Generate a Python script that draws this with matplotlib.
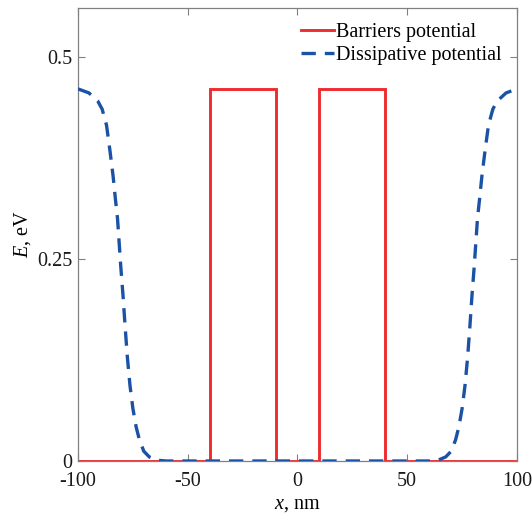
import matplotlib
matplotlib.use('Agg')
import matplotlib.pyplot as plt

# barrier potential (rectangular barriers)
barrier_x = [-100, -40, -40, -10, -10, 10, 10, 40, 40, 100]
barrier_e = [0, 0, 0.46, 0.46, 0, 0, 0.46, 0.46, 0, 0]

# dissipative (absorbing) potential
diss_x = [-100, -95, -91, -89, -87, -85.5, -84, -83, -82, -81.3, -80.5, -79.5,
          -78.5, -77.5, -76.3, -75, -73.5, -72, -70, -67.5, -64, -60,
          60, 64, 67.5, 70, 72, 73.5, 75, 76.3, 77.5, 78.5, 79.5, 80.5,
          81.3, 82, 83, 84, 85.5, 87, 89, 91, 95, 100]
diss_e = [0.460, 0.455, 0.445, 0.435, 0.415, 0.385, 0.352, 0.325, 0.300, 0.272,
          0.240, 0.205, 0.165, 0.128, 0.093, 0.065, 0.042, 0.026, 0.012, 0.005,
          0.001, 0.0,
          0.0, 0.001, 0.005, 0.012, 0.026, 0.042, 0.065, 0.093, 0.128, 0.165,
          0.205, 0.240, 0.272, 0.300, 0.325, 0.352, 0.385, 0.415, 0.435, 0.445,
          0.455, 0.460]

xticks = [-100, -50, 0, 50, 100]
yticks = [0, 0.25, 0.5]
ytick_labels = ['0', '0.25', '0.5']

plt.rcParams['font.family'] = ['Liberation Serif', 'DejaVu Serif']
plt.rcParams['mathtext.fontset'] = 'custom'
plt.rcParams['mathtext.rm'] = 'Liberation Serif'
plt.rcParams['mathtext.it'] = 'Liberation Serif:italic'
plt.rcParams['axes.unicode_minus'] = False

fs = 14.5

fig = plt.figure(figsize=(5.32, 5.16), dpi=100)
ax = fig.add_axes([0.1466, 0.1066, 0.8252, 0.8779])

ax.plot(barrier_x, barrier_e, color='#EE2C2F', lw=2.1, label='Barriers potential',
        zorder=2, solid_joinstyle='miter')
ax.plot(diss_x, diss_e, color='#1B52A6', lw=2.4, ls=(0, (4.3, 2.7)),
        label='Dissipative potential', zorder=3)

ax.set_xlim(-100, 100)
ax.set_ylim(0, 0.56)
ax.set_xticks(xticks)
ax.set_xticklabels([str(t) for t in xticks])
ax.set_yticks(yticks)
ax.set_yticklabels(ytick_labels)

ax.tick_params(direction='in', top=True, right=True, length=5, width=0.8,
               color='#808080', labelsize=fs, labelcolor='#1a1a1a')
ax.tick_params(axis='x', pad=8)
ax.tick_params(axis='y', pad=4)
for s in ax.spines.values():
    s.set_color('#808080')
    s.set_linewidth(0.9)

ax.set_xlabel('$x$, nm', fontsize=fs, labelpad=3)
ax.set_ylabel('$E$, eV', fontsize=fs, labelpad=3)

ax.legend(loc='upper right', frameon=False, fontsize=fs, handlelength=1.65,
          handletextpad=0.1, borderaxespad=0.35, labelspacing=0.2)

fig.savefig('out.png', dpi=100)
